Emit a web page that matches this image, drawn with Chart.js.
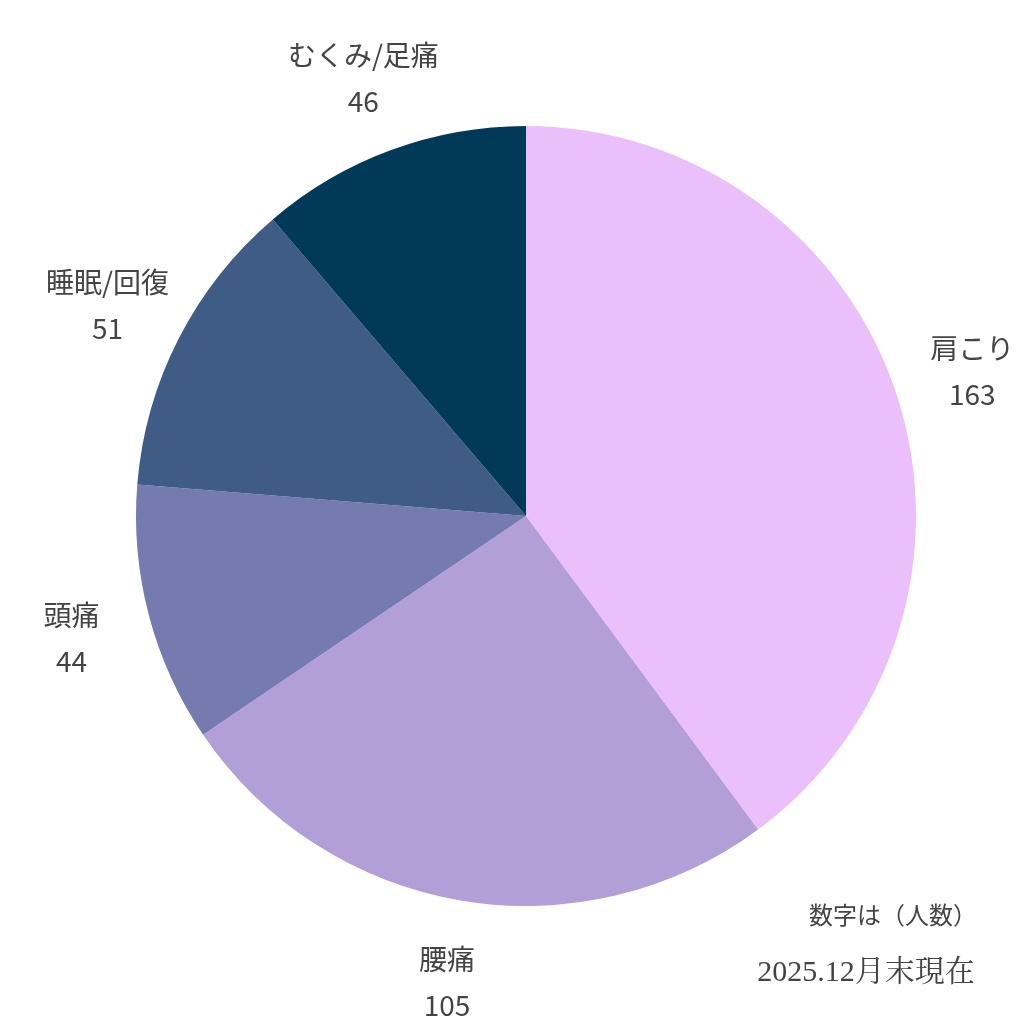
<!DOCTYPE html>
<html><head><meta charset="utf-8">
<script src="https://cdn.jsdelivr.net/npm/chart.js@4"></script>
<style>html,body{margin:0;background:#fff}#w{width:1024px;height:1024px}</style>
</head><body><div id="w"><canvas id="c" width="1024" height="1024"></canvas></div>
<script>
const categories = ['肩こり','腰痛','頭痛','睡眠/回復','むくみ/足痛'];
const values = [163,105,44,51,46];
const colors = ['#EBC0FA','#B29FD8','#757BAE','#3E5C85','#013A59'];
const FONT = '"Noto Sans CJK JP", "Noto Sans", sans-serif';
const labelPlugin = {
  id:'lbl',
  afterDraw(chart){
    const ctx = chart.ctx;
    const meta = chart.getDatasetMeta(0);
    ctx.save();
    ctx.fillStyle = '#444';
    ctx.textAlign = 'center';
    ctx.textBaseline = 'middle';
    meta.data.forEach((arc,i)=>{
      const a = (arc.startAngle+arc.endAngle)/2;
      const r = arc.outerRadius + 80;
      const x = arc.x + Math.cos(a)*r, y = arc.y + Math.sin(a)*r;
      ctx.font = '28px '+FONT;
      ctx.fillText(categories[i], x, y-20);
      ctx.fillText(String(values[i]), x, y+26);
    });
    ctx.font = '24px '+FONT;
    ctx.fillText('数字は（人数）', 893, 915);
    ctx.font = '30px "Liberation Serif", "Noto Serif CJK JP", serif';
    ctx.fillText('2025.12月末現在', 866, 973);
    ctx.restore();
  }
};
new Chart(document.getElementById('c'),{
  type:'pie',
  data:{labels:categories,datasets:[{data:values,backgroundColor:colors,borderWidth:0}]},
  options:{responsive:false,animation:false,
    layout:{padding:{left:136,top:126,right:108,bottom:118}},
    plugins:{legend:{display:false},tooltip:{enabled:false}}},
  plugins:[labelPlugin]
});
</script></body></html>
